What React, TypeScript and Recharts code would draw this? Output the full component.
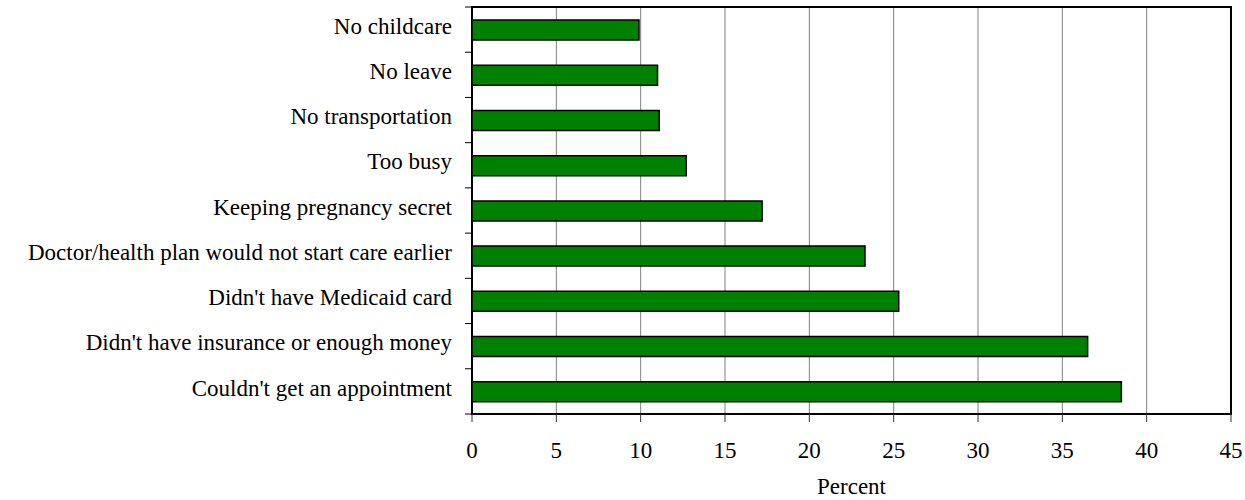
import { Bar, BarChart, CartesianGrid, ReferenceArea, XAxis, YAxis } from "recharts";

document.body.style.margin = "0";

const reasons = [
  "No childcare",
  "No leave",
  "No transportation",
  "Too busy",
  "Keeping pregnancy secret",
  "Doctor/health plan would not start care earlier",
  "Didn't have Medicaid card",
  "Didn't have insurance or enough money",
  "Couldn't get an appointment",
];
const percents = [9.9, 11.0, 11.1, 12.7, 17.2, 23.3, 25.3, 36.5, 38.5];
const xTicks = [0, 5, 10, 15, 20, 25, 30, 35, 40, 45];

const data = reasons.map((reason, i) => ({ reason, pct: percents[i] }));

const W = 1245;
const H = 500;
const AXIS_LEFT = 472;
const TOP = 7;
const BOTTOM_H = 86;
const BAND = (H - TOP - BOTTOM_H) / reasons.length;
const FONT = "'Liberation Serif', 'Times New Roman', serif";
const FS = 23;

function CategoryTick(props: any) {
  const { y, payload, index } = props;
  const half = BAND / 2;
  return (
    <g>
      <text
        x={AXIS_LEFT - 20}
        y={y}
        dy="0.18em"
        textAnchor="end"
        fill="#000"
        fontSize={FS}
        fontFamily={FONT}
      >
        {payload.value}
      </text>
      <line x1={AXIS_LEFT - 7} x2={AXIS_LEFT} y1={y - half} y2={y - half} stroke="#000" />
      {index === reasons.length - 1 && (
        <line x1={AXIS_LEFT - 7} x2={AXIS_LEFT} y1={y + half} y2={y + half} stroke="#000" />
      )}
    </g>
  );
}

export default function App() {
  return (
    <div style={{ width: W, height: H, background: "#fff" }}>
      <BarChart
        width={W}
        height={H}
        data={data}
        layout="vertical"
        margin={{ top: TOP, right: 14, left: 0, bottom: 0 }}
        barSize={20}
      >
        <CartesianGrid horizontal={false} stroke="#808080" strokeWidth={1} />
        <XAxis
          type="number"
          domain={[0, 45]}
          ticks={xTicks}
          interval={0}
          height={BOTTOM_H}
          tickSize={8}
          tickMargin={20}
          axisLine={false}
          tickLine={{ stroke: "#333" }}
          tick={{ fill: "#000", fontSize: FS, fontFamily: FONT }}
          label={{
            value: "Percent",
            position: "insideBottom",
            offset: 6,
            fill: "#000",
            fontSize: FS,
            fontFamily: FONT,
          }}
        />
        <YAxis
          type="category"
          dataKey="reason"
          width={AXIS_LEFT}
          axisLine={false}
          tickLine={false}
          interval={0}
          tick={<CategoryTick />}
        />
        <Bar
          dataKey="pct"
          fill="#008000"
          stroke="#000"
          strokeWidth={1.5}
          isAnimationActive={false}
        />
        <ReferenceArea x1={0} x2={45} fill="none" stroke="#000" strokeWidth={2} />
      </BarChart>
    </div>
  );
}
